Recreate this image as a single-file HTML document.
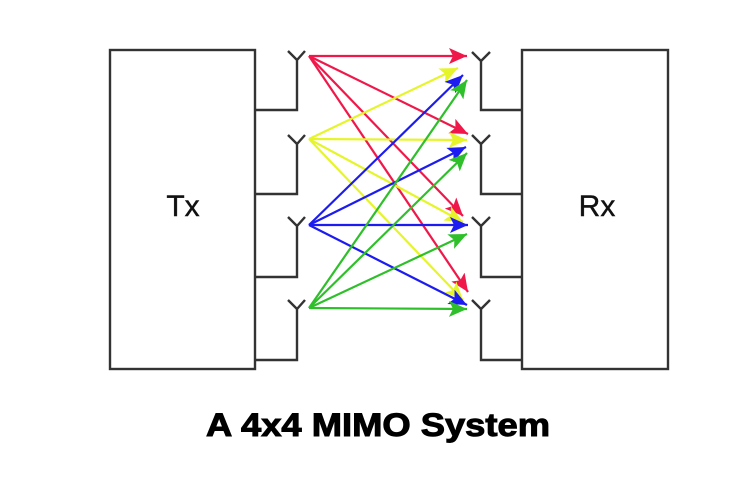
<!DOCTYPE html>
<html><head><meta charset="utf-8"><style>
html,body{margin:0;padding:0;background:#fff;}
body{width:753px;height:487px;overflow:hidden;position:relative;}
svg{position:absolute;left:0;top:0;}
</style></head><body>
<svg width="753" height="487" viewBox="0 0 753 487" xmlns="http://www.w3.org/2000/svg">
<defs>
<marker id="mr" markerUnits="userSpaceOnUse" markerWidth="20" markerHeight="16" refX="18" refY="8" orient="auto"><path d="M0,0 L18,8 L0,16 L4,8 Z" fill="#f0184a"/></marker>
<marker id="my" markerUnits="userSpaceOnUse" markerWidth="20" markerHeight="16" refX="18" refY="8" orient="auto"><path d="M0,0 L18,8 L0,16 L4,8 Z" fill="#e6f52a"/></marker>
<marker id="mb" markerUnits="userSpaceOnUse" markerWidth="20" markerHeight="16" refX="18" refY="8" orient="auto"><path d="M0,0 L18,8 L0,16 L4,8 Z" fill="#1c1cf0"/></marker>
<marker id="mg" markerUnits="userSpaceOnUse" markerWidth="20" markerHeight="16" refX="18" refY="8" orient="auto"><path d="M0,0 L18,8 L0,16 L4,8 Z" fill="#2ebf2a"/></marker>
</defs>
<g fill="none" stroke="#333" stroke-width="2.4">
<rect x="110" y="50" width="145" height="319"/>
<rect x="522" y="50" width="146" height="319"/>
<!-- Tx antennas -->
<path d="M288,51 L297,60 L305,51 M297,60 L297,110 L255,110"/>
<path d="M288,135 L297,144 L305,135 M297,144 L297,194 L255,194"/>
<path d="M288,217 L297,226 L305,217 M297,226 L297,277 L255,277"/>
<path d="M288,300 L297,309 L305,300 M297,309 L297,360 L255,360"/>
<!-- Rx antennas -->
<path d="M472,52 L481,61 L490,52 M481,61 L481,110 L522,110"/>
<path d="M472,135 L481,144 L490,135 M481,144 L481,194 L522,194"/>
<path d="M472,217 L481,226 L490,217 M481,226 L481,277 L522,277"/>
<path d="M472,300 L481,309 L490,300 M481,309 L481,360 L522,360"/>
</g>
<g stroke-width="2.2" fill="none">
<g stroke="#f0184a">
<line x1="309" y1="56" x2="467" y2="56" marker-end="url(#mr)"/>
<line x1="309" y1="56" x2="468" y2="134" marker-end="url(#mr)"/>
<line x1="309" y1="56" x2="463" y2="216" marker-end="url(#mr)"/>
<line x1="309" y1="56" x2="468" y2="292" marker-end="url(#mr)"/>
</g>
<g stroke="#e6f52a">
<line x1="309" y1="139" x2="458" y2="68" marker-end="url(#my)"/>
<line x1="309" y1="139" x2="467" y2="140" marker-end="url(#my)"/>
<line x1="309" y1="139" x2="463" y2="222" marker-end="url(#my)"/>
<line x1="309" y1="139" x2="463" y2="300" marker-end="url(#my)"/>
</g>
<g stroke="#1c1cf0">
<line x1="309" y1="225" x2="463" y2="75" marker-end="url(#mb)"/>
<line x1="309" y1="225" x2="466" y2="147" marker-end="url(#mb)"/>
<line x1="309" y1="225" x2="468" y2="225" marker-end="url(#mb)"/>
<line x1="309" y1="225" x2="467" y2="305" marker-end="url(#mb)"/>
</g>
<g stroke="#2ebf2a">
<line x1="309" y1="308" x2="467" y2="80" marker-end="url(#mg)"/>
<line x1="309" y1="308" x2="467" y2="153" marker-end="url(#mg)"/>
<line x1="309" y1="308" x2="467" y2="234" marker-end="url(#mg)"/>
<line x1="309" y1="308" x2="467" y2="309" marker-end="url(#mg)"/>
</g>
</g>
<text x="183" y="216" font-family="Liberation Sans, sans-serif" font-size="30" fill="#111" stroke="#111" stroke-width="0.4" text-anchor="middle">Tx</text>
<text x="597" y="216" font-family="Liberation Sans, sans-serif" font-size="30" fill="#111" stroke="#111" stroke-width="0.4" text-anchor="middle">Rx</text>
<text x="378" y="436" font-family="Liberation Sans, sans-serif" font-size="32" font-weight="bold" fill="#000" stroke="#000" stroke-width="1" text-anchor="middle" textLength="344" lengthAdjust="spacingAndGlyphs">A 4x4 MIMO System</text>
</svg>
</body></html>
